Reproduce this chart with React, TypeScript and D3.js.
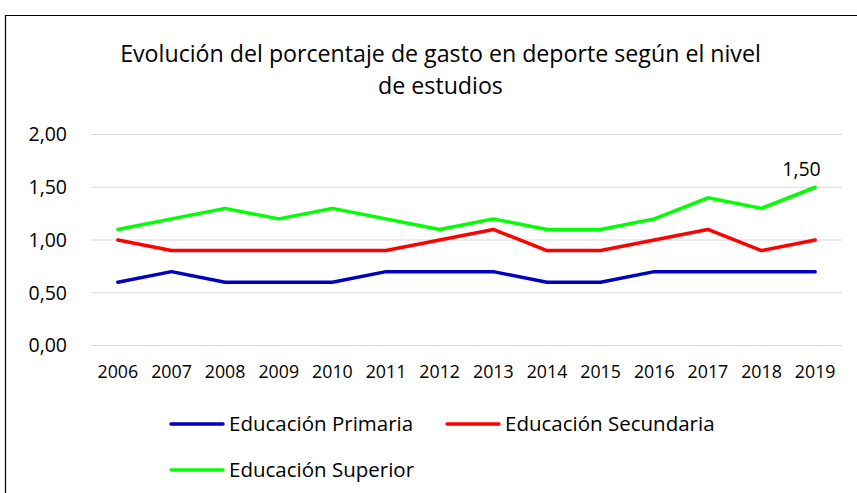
import React from "react";
import * as d3 from "d3";

const years = ["2006","2007","2008","2009","2010","2011","2012","2013","2014","2015","2016","2017","2018","2019"];
const primaria = [0.6,0.7,0.6,0.6,0.6,0.7,0.7,0.7,0.6,0.6,0.7,0.7,0.7,0.7];
const secundaria = [1.0,0.9,0.9,0.9,0.9,0.9,1.0,1.1,0.9,0.9,1.0,1.1,0.9,1.0];
const superior = [1.1,1.2,1.3,1.2,1.3,1.2,1.1,1.2,1.1,1.1,1.2,1.4,1.3,1.5];
const yTicks = [0, 0.5, 1, 1.5, 2];
const seriesNames = ["Educación Primaria", "Educación Secundaria", "Educación Superior"];
const seriesColors = ["#0000C0", "#FF0000", "#00FF00"];
const title1 = "Evolución del porcentaje de gasto en deporte según el nivel";
const title2 = "de estudios";

const W = 857, H = 493;
const font = "'Open Sans', sans-serif";
const fmt = (v: number) => v.toFixed(2).replace(".", ",");

export default function App() {
  const x = d3.scaleBand<string>().domain(years).range([91, 842]);
  const y = d3.scaleLinear().domain([0, 2]).range([345.5, 134.5]);
  const line = d3.line<number>()
    .x((_, i) => (x(years[i]) as number) + x.bandwidth() / 2)
    .y(d => y(d));
  const data = [primaria, secundaria, superior];
  const lastIdx = years.length - 1;
  const legendPos = [[171, 424], [447, 424], [171, 470]];
  return (
    <svg width={W} height={H} style={{ position: "absolute", left: 0, top: 0, background: "#fff" }}>
      <rect x={0} y={0} width={W} height={H} fill="#fff" />
      <path d={`M5.5,${H} V15.5 H${W}`} fill="none" stroke="#000" strokeWidth={1.2} />
      <text x={440.5} y={62} textAnchor="middle" fontFamily={font} fontSize={23.2} fill="#000">{title1}</text>
      <text x={440.5} y={94} textAnchor="middle" fontFamily={font} fontSize={23.2} fill="#000">{title2}</text>
      {yTicks.map(t => (
        <g key={t}>
          <line x1={91} x2={842} y1={y(t)} y2={y(t)} stroke="#D9D9D9" strokeWidth={1.2} />
          <text x={67} y={y(t)} dy="0.35em" textAnchor="end" fontFamily={font} fontSize={19.5} fill="#000">{fmt(t)}</text>
        </g>
      ))}
      {years.map(yr => (
        <text key={yr} x={(x(yr) as number) + x.bandwidth() / 2} y={372} dy="0.35em" textAnchor="middle" fontFamily={font} fontSize={17.8} fill="#000">{yr}</text>
      ))}
      {data.map((d, i) => (
        <path key={i} d={line(d) as string} fill="none" stroke={seriesColors[i]} strokeWidth={3.5} strokeLinejoin="round" strokeLinecap="round" />
      ))}
      <text x={801.5} y={176} textAnchor="middle" fontFamily={font} fontSize={19.5} fill="#000">{fmt(superior[lastIdx])}</text>
      {seriesNames.map((n, i) => {
        const [lx, ly] = legendPos[i];
        return (
          <g key={n}>
            <line x1={lx} x2={lx + 52} y1={ly} y2={ly} stroke={seriesColors[i]} strokeWidth={3.5} strokeLinecap="round" />
            <text x={lx + 58} y={ly} dy="0.35em" fontFamily={font} fontSize={20.5} fill="#000">{n}</text>
          </g>
        );
      })}
    </svg>
  );
}
